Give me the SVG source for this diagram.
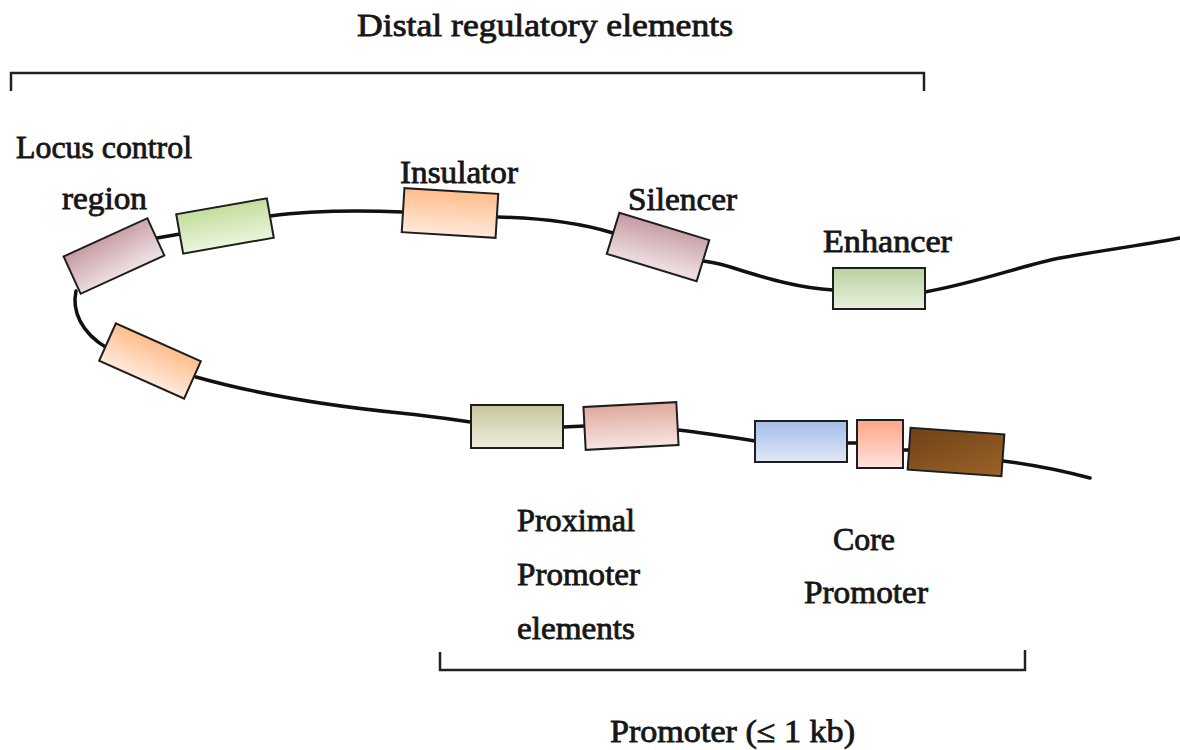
<svg xmlns="http://www.w3.org/2000/svg" width="1180" height="750" viewBox="0 0 1180 750">
  <style>
    .lbl { font-family: "Liberation Serif", "DejaVu Serif", serif; font-size: 31px; fill: #161616; stroke: #161616; stroke-width: 0.8; }
    .strand { fill: none; stroke: #111; stroke-width: 3.5; stroke-linecap: round; }
    .bracket { fill: none; stroke: #222; stroke-width: 2.5; }
    .box { stroke: #1e1e1e; stroke-width: 2; }
  </style>
  <defs>
    <linearGradient id="gMauve" x1="0" y1="0" x2="0.15" y2="1"><stop offset="0" stop-color="#c49aa2"/><stop offset="1" stop-color="#eddde0"/></linearGradient>
    <linearGradient id="gGreen" x1="0" y1="0" x2="0" y2="1"><stop offset="0" stop-color="#c3dd9c"/><stop offset="1" stop-color="#ebf5de"/></linearGradient>
    <linearGradient id="gPeach" x1="0" y1="0" x2="0" y2="1"><stop offset="0" stop-color="#ffbd8c"/><stop offset="1" stop-color="#ffe9db"/></linearGradient>
    <linearGradient id="gSage" x1="0" y1="0" x2="0" y2="1"><stop offset="0" stop-color="#b8d29e"/><stop offset="1" stop-color="#e8f1de"/></linearGradient>
    <linearGradient id="gTan" x1="0" y1="0" x2="0" y2="1"><stop offset="0" stop-color="#c6c49c"/><stop offset="1" stop-color="#eeeddf"/></linearGradient>
    <linearGradient id="gRose" x1="0" y1="0" x2="0" y2="1"><stop offset="0" stop-color="#dfa99c"/><stop offset="1" stop-color="#f7e5e1"/></linearGradient>
    <linearGradient id="gBlue" x1="0" y1="0" x2="0" y2="1"><stop offset="0" stop-color="#a4bde8"/><stop offset="1" stop-color="#e0e8f7"/></linearGradient>
    <linearGradient id="gSalmon" x1="0" y1="0" x2="0" y2="1"><stop offset="0" stop-color="#ffa48a"/><stop offset="1" stop-color="#ffe4dc"/></linearGradient>
    <linearGradient id="gBrown" x1="0" y1="0" x2="1" y2="1"><stop offset="0" stop-color="#6e4218"/><stop offset="1" stop-color="#9c6228"/></linearGradient>
  </defs>

  <rect width="1180" height="750" fill="#fff"/>

  <!-- DNA strand -->
  <g id="connectors">
    <path class="strand" d="M925,292 C980,282 1020,266 1060,258 C1110,249 1150,244 1180,238"/>
    <path class="strand" d="M833,290 C795,288 760,276 740,270 C725,265 712,262 703,261"/>
    <path class="strand" d="M613,233 C580,223 540,218 498,217"/>
    <path class="strand" d="M403,212 C350,210 300,212 270,216"/>
    <path class="strand" d="M180,234 L157,238"/>
    <path class="strand" d="M76,291 C72,310 80,332 107,348"/>
    <path class="strand" d="M196,377 C260,395 330,406 400,413 C430,416 450,419 471,422"/>
    <path class="strand" d="M563,427 L585,426"/>
    <path class="strand" d="M678,430 C705,433 730,437 755,441"/>
    <path class="strand" d="M847,443 L857,443"/>
    <path class="strand" d="M903,450 L910,450"/>
    <path class="strand" d="M1003,461 C1035,465 1060,470 1090,478"/>
  </g>

  <!-- Distal regulatory elements bracket -->
  <g id="distal-bracket">
    <path class="bracket" d="M11,91 V73 H924 V91"/>
    <text class="lbl" x="357" y="36" textLength="376" lengthAdjust="spacingAndGlyphs">Distal regulatory elements</text>
  </g>

  <g id="locus-control-region">
    <rect class="box" x="-46" y="-20.5" width="92" height="41" fill="url(#gMauve)" transform="translate(114,256) rotate(-24.5)"/>
    <text class="lbl" x="16" y="158" textLength="176" lengthAdjust="spacingAndGlyphs">Locus control</text>
    <text class="lbl" x="62" y="209" textLength="85" lengthAdjust="spacingAndGlyphs">region</text>
  </g>

  <g id="green-element">
    <rect class="box" x="-46" y="-20" width="92" height="40" fill="url(#gGreen)" transform="translate(225,226) rotate(-10)"/>
  </g>

  <g id="insulator">
    <rect class="box" x="-47" y="-22" width="94" height="44" fill="url(#gPeach)" transform="translate(450,213) rotate(3.5)"/>
    <text class="lbl" x="400" y="183" textLength="118" lengthAdjust="spacingAndGlyphs">Insulator</text>
  </g>

  <g id="silencer">
    <rect class="box" x="-47" y="-21.5" width="94" height="43" fill="url(#gMauve)" transform="translate(658,247) rotate(17)"/>
    <text class="lbl" x="628" y="210" textLength="109" lengthAdjust="spacingAndGlyphs">Silencer</text>
  </g>

  <g id="enhancer">
    <rect class="box" x="833" y="268" width="92" height="41" fill="url(#gSage)"/>
    <text class="lbl" x="823" y="252" textLength="129" lengthAdjust="spacingAndGlyphs">Enhancer</text>
  </g>

  <g id="lower-peach-element">
    <rect class="box" x="-46.5" y="-20.5" width="93" height="41" fill="url(#gPeach)" transform="translate(150,361) rotate(24)"/>
  </g>

  <g id="proximal-element-1">
    <rect class="box" x="471" y="405" width="92" height="43" fill="url(#gTan)"/>
  </g>

  <g id="proximal-element-2">
    <rect class="box" x="-46.5" y="-21.5" width="93" height="43" fill="url(#gRose)" transform="translate(631,426) rotate(-3)"/>
  </g>

  <g id="proximal-label">
    <text class="lbl" x="517" y="531" textLength="118" lengthAdjust="spacingAndGlyphs">Proximal</text>
    <text class="lbl" x="517" y="585" textLength="123" lengthAdjust="spacingAndGlyphs">Promoter</text>
    <text class="lbl" x="517" y="639" textLength="118" lengthAdjust="spacingAndGlyphs">elements</text>
  </g>

  <g id="core-element-blue">
    <rect class="box" x="755" y="421" width="92" height="41" fill="url(#gBlue)"/>
  </g>

  <g id="core-element-salmon">
    <rect class="box" x="857" y="420" width="46" height="48" fill="url(#gSalmon)"/>
  </g>

  <g id="core-element-brown">
    <rect class="box" x="-47" y="-21" width="94" height="42" fill="url(#gBrown)" transform="translate(956,452) rotate(4)"/>
  </g>

  <g id="core-label">
    <text class="lbl" x="833" y="550" textLength="62" lengthAdjust="spacingAndGlyphs">Core</text>
    <text class="lbl" x="804" y="603" textLength="124" lengthAdjust="spacingAndGlyphs">Promoter</text>
  </g>

  <!-- Promoter bracket -->
  <g id="promoter-bracket">
    <path class="bracket" d="M440,652 V670 H1025 V650"/>
    <text class="lbl" x="610" y="742" textLength="245" lengthAdjust="spacingAndGlyphs">Promoter (≤ 1 kb)</text>
  </g>
</svg>
